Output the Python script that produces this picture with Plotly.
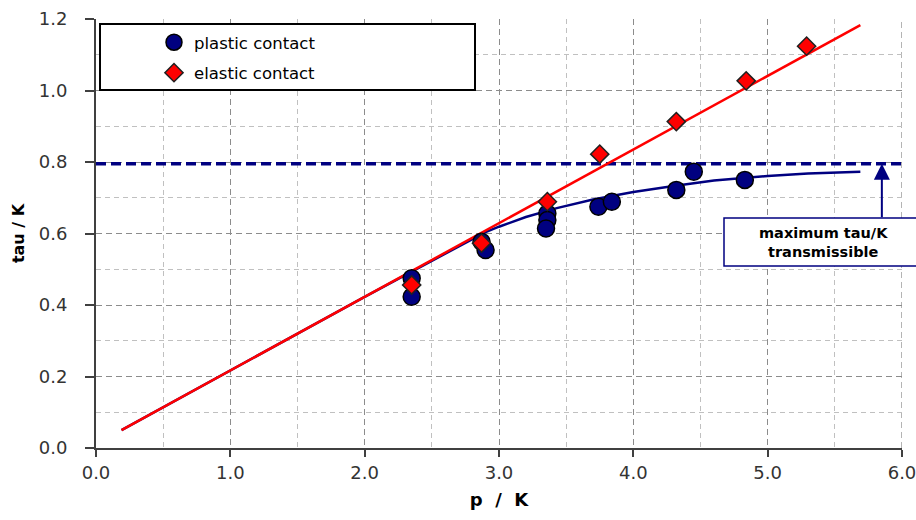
import plotly.graph_objects as go

# ---- data ----
plastic_x = [2.35, 2.35, 2.87, 2.90, 3.36, 3.36, 3.35, 3.74, 3.84, 4.32, 4.45, 4.83]
plastic_y = [0.475, 0.423, 0.577, 0.554, 0.656, 0.638, 0.614, 0.675, 0.689, 0.722, 0.773, 0.750]

elastic_x = [2.35, 2.87, 3.36, 3.75, 4.32, 4.84, 5.29]
elastic_y = [0.456, 0.573, 0.689, 0.822, 0.913, 1.027, 1.124]

elastic_fit_x = [0.19, 5.69]
elastic_fit_y = [0.05, 1.183]

plastic_fit_x = [0.19, 1.0, 2.0, 2.9, 3.0, 3.2, 3.43, 3.7, 4.0, 4.3, 4.6, 5.0, 5.3, 5.69]
plastic_fit_y = [0.05, 0.217, 0.423, 0.604, 0.619, 0.646, 0.671, 0.695, 0.716, 0.733, 0.748, 0.761, 0.768, 0.773]

max_tau = 0.795
max_line_x = [0, 6]
arrow_x = 5.85

NAVY = "#000080"
FONT = "DejaVu Sans"

fig = go.Figure()

fig.add_trace(go.Scatter(x=max_line_x, y=[max_tau, max_tau], mode="lines",
                         line=dict(color=NAVY, width=3.5, dash="10px,5px"),
                         showlegend=False, hoverinfo="skip", cliponaxis=False))
fig.add_trace(go.Scatter(x=plastic_fit_x, y=plastic_fit_y, mode="lines",
                         line=dict(color=NAVY, width=2.5), showlegend=False))
fig.add_trace(go.Scatter(x=elastic_fit_x, y=elastic_fit_y, mode="lines",
                         line=dict(color="#ff0000", width=2.5), showlegend=False))
fig.add_trace(go.Scatter(x=plastic_x, y=plastic_y, mode="markers", name="plastic contact",
                         legendgroup="a",
                         marker=dict(symbol="circle", size=17, color=NAVY,
                                     line=dict(color="#000000", width=1.5))))
fig.add_trace(go.Scatter(x=elastic_x, y=elastic_y, mode="markers", name="elastic contact",
                         legendgroup="b",
                         marker=dict(symbol="diamond", size=14, color="#ff0000",
                                     line=dict(color="#202020", width=1.5))))

axis_common = dict(
    showline=True, linecolor="#404040", linewidth=2,
    ticks="outside", tickcolor="#404040", tickwidth=1.5,
    showgrid=True, gridcolor="#8c8c8c", gridwidth=1.3, griddash="6px,4px",
    zeroline=False, automargin=False,
    tickfont=dict(family=FONT, size=18, color="#333333"),
)

fig.update_xaxes(range=[0, 6], dtick=1, tickformat=".1f", ticklen=7,
                 ticklabeloverflow="allow",
                 minor=dict(dtick=0.5, showgrid=True, gridcolor="#c0c0c0",
                            gridwidth=1, griddash="5px,4px"),
                 title=dict(text="p\u00a0\u00a0/\u00a0\u00a0K",
                            font=dict(family=FONT, size=18, color="#000000", weight="bold"),
                            standoff=12),
                 **axis_common)
fig.update_yaxes(range=[0, 1.2], dtick=0.2, tickformat=".1f", ticklen=9,
                 ticklabelstandoff=14,
                 minor=dict(dtick=0.1, showgrid=True, gridcolor="#c0c0c0",
                            gridwidth=1, griddash="5px,4px"),
                 title=dict(text="tau / K",
                            font=dict(family=FONT, size=16, color="#000000", weight="bold"),
                            standoff=10),
                 **axis_common)

# legend box
fig.add_shape(type="rect", xref="paper", yref="paper",
              x0=(100 - 96) / 806, x1=(475 - 96) / 806,
              y0=(448 - 90) / 429, y1=(448 - 24) / 429,
              line=dict(color="#000000", width=2), fillcolor="white", layer="above")

# right-hand grid border at 6.0
fig.add_shape(type="line", xref="x", yref="paper", x0=6, x1=6, y0=0, y1=1,
              line=dict(color="#8c8c8c", width=1.3, dash="6px,4px"), layer="below")

# annotation box
fig.add_shape(type="rect", xref="paper", yref="paper",
              x0=(724 - 96) / 806, x1=(926 - 96) / 806,
              y0=(448 - 266) / 429, y1=(448 - 218) / 429,
              line=dict(color=NAVY, width=1.5), fillcolor="white", layer="above")
fig.add_annotation(xref="paper", yref="paper", x=(823 - 96) / 806, y=(448 - 242) / 429,
                   xanchor="center", yanchor="middle",
                   text="maximum tau/K<br>transmissible", showarrow=False,
                   font=dict(family=FONT, size=14.5, color="#000000", weight="bold"))
# arrow
fig.add_annotation(x=arrow_x, y=max_tau, ax=0, ay=55, text="", showarrow=True,
                   arrowhead=2, arrowsize=1.6, arrowwidth=2, arrowcolor=NAVY, standoff=0)

fig.update_layout(
    width=916, height=520,
    margin=dict(l=96, r=14, t=19, b=72, autoexpand=False),
    paper_bgcolor="white", plot_bgcolor="white",
    showlegend=True,
    legend=dict(x=(154 - 96) / 806, y=(448 - 25) / 429, xanchor="left", yanchor="top",
                bgcolor="rgba(0,0,0,0)", borderwidth=0, tracegroupgap=6,
                font=dict(family=FONT, size=16.5, color="#000000"),
                traceorder="grouped"),
    font=dict(family=FONT),
)

fig.write_html("out.html")
